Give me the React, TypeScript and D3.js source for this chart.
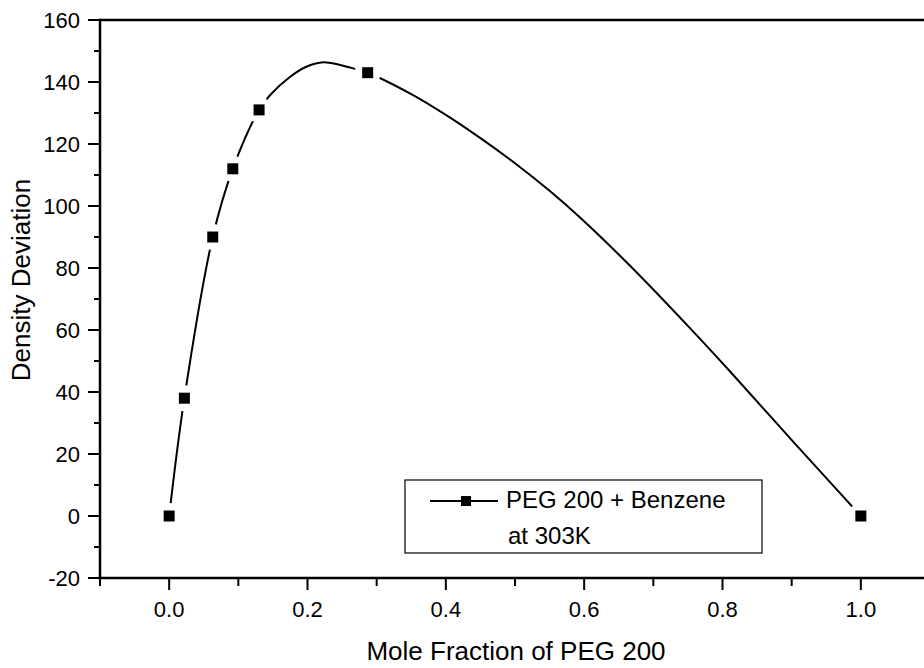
import React from "react";
import * as d3 from "d3";

// Measured data points
const moleFraction = [0, 0.022, 0.063, 0.092, 0.13, 0.287, 1.0];
const densityDeviation = [0, 38, 90, 112, 131, 143, 0];

// Smooth curve
const curveX = [0, 0.022, 0.063, 0.092, 0.13, 0.146, 0.175, 0.199, 0.223, 0.247, 0.266, 0.287, 0.35, 0.4, 0.45, 0.5, 0.55, 0.594, 0.666, 0.753, 0.811, 0.907, 1.0];
const curveY = [0, 38, 90, 112, 131, 135.8, 141.7, 145, 146.4, 145.5, 144.4, 143, 136.1, 129.4, 121.9, 113.8, 104.9, 96.3, 80.8, 60.6, 46.6, 22.8, 0];

const xMajorTicks = [0, 0.2, 0.4, 0.6, 0.8, 1.0];
const xMinorTicks = [-0.1, 0.1, 0.3, 0.5, 0.7, 0.9, 1.1];
const yMajorTicks = [-20, 0, 20, 40, 60, 80, 100, 120, 140, 160];
const yMinorTicks = [-10, 10, 30, 50, 70, 90, 110, 130, 150];

const xTitle = "Mole Fraction of PEG 200";
const yTitle = "Density Deviation";
const legendLine1 = "PEG 200 + Benzene";
const legendLine2 = "at 303K";

export default function App() {
  const W = 924, H = 668;
  const x = d3.scaleLinear().domain([-0.1, 1.1]).range([100, 930]);
  const y = d3.scaleLinear().domain([-20, 160]).range([578, 20]);
  const font = "'Liberation Sans', Arial, sans-serif";

  const pts: [number, number][] = curveX.map((v, i) => [v, curveY[i]]);
  const line = d3
    .line<[number, number]>()
    .x((d) => x(d[0]))
    .y((d) => y(d[1]))
    .curve(d3.curveCatmullRom.alpha(0.5));

  const marker = 11;

  return (
    <svg width={W} height={H} style={{ position: "absolute", left: 0, top: 0, background: "#fff" }} fontFamily={font}>
      <defs>
        <mask id="gaps">
          <rect x={0} y={0} width={W} height={H} fill="white" />
          {moleFraction.map((v, i) => (
            <circle key={i} cx={x(v)} cy={y(densityDeviation[i])} r={13} fill="black" />
          ))}
        </mask>
      </defs>

      {/* axes frame */}
      <line x1={100} y1={20} x2={W} y2={20} stroke="#000" strokeWidth={2.5} />
      <line x1={100} y1={18.75} x2={100} y2={579.25} stroke="#000" strokeWidth={2.5} />
      <line x1={98.75} y1={578} x2={W} y2={578} stroke="#000" strokeWidth={2.5} />

      {/* y ticks */}
      {yMajorTicks.map((t) => (
        <g key={"ym" + t}>
          <line x1={88} x2={100} y1={y(t)} y2={y(t)} stroke="#000" strokeWidth={2} />
          <text x={80} y={y(t)} dy="0.36em" textAnchor="end" fontSize={22} fill="#000">
            {t}
          </text>
        </g>
      ))}
      {yMinorTicks.map((t) => (
        <line key={"yn" + t} x1={94} x2={100} y1={y(t)} y2={y(t)} stroke="#000" strokeWidth={2} />
      ))}

      {/* x ticks */}
      {xMajorTicks.map((t) => (
        <g key={"xm" + t}>
          <line x1={x(t)} x2={x(t)} y1={578} y2={590} stroke="#000" strokeWidth={2} />
          <text x={x(t)} y={617} textAnchor="middle" fontSize={22} fill="#000">
            {t.toFixed(1)}
          </text>
        </g>
      ))}
      {xMinorTicks.map((t) => (
        <line key={"xn" + t} x1={x(t)} x2={x(t)} y1={578} y2={586} stroke="#000" strokeWidth={2} />
      ))}

      {/* axis titles */}
      <text x={516} y={660} textAnchor="middle" fontSize={26} fill="#000">
        {xTitle}
      </text>
      <text transform={`translate(30,280) rotate(-90)`} textAnchor="middle" fontSize={26} fill="#000">
        {yTitle}
      </text>

      {/* curve */}
      <path d={line(pts) ?? ""} fill="none" stroke="#000" strokeWidth={2} mask="url(#gaps)" />

      {/* markers */}
      {moleFraction.map((v, i) => (
        <rect
          key={"p" + i}
          x={x(v) - marker / 2}
          y={y(densityDeviation[i]) - marker / 2}
          width={marker}
          height={marker}
          fill="#000"
        />
      ))}

      {/* legend */}
      <rect x={405} y={480} width={357} height={73} fill="#fff" stroke="#000" strokeWidth={1.2} />
      <line x1={430} x2={461} y1={501} y2={501} stroke="#000" strokeWidth={2} />
      <line x1={471} x2={498} y1={501} y2={501} stroke="#000" strokeWidth={2} />
      <rect x={466 - 5} y={501 - 5} width={10} height={10} fill="#000" />
      <text x={506} y={508} fontSize={24} fill="#000">
        {legendLine1}
      </text>
      <text x={508} y={544} fontSize={24} fill="#000">
        {legendLine2}
      </text>
    </svg>
  );
}
